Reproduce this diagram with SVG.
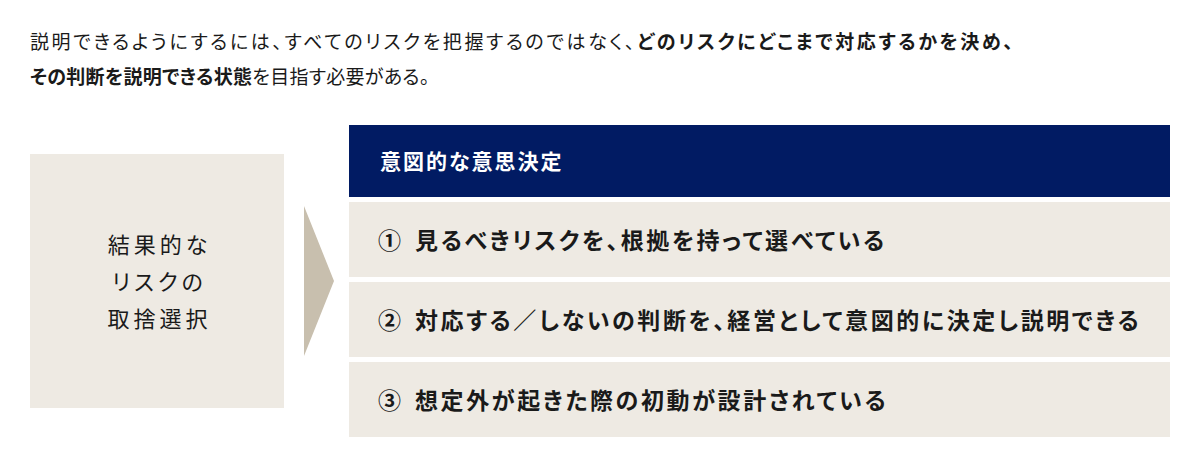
<svg xmlns="http://www.w3.org/2000/svg" width="1200" height="467" viewBox="0 0 1200 467">
<style>
text{font-family:"Noto Sans CJK JP","Noto Sans CJK SC",sans-serif;fill:#1a1a1a;font-feature-settings:"palt" 1}
.lead{font-size:19px;letter-spacing:0.3px}
.just{letter-spacing:2.6px}
.b{font-weight:700}
.box{fill:#eeeae3}
.row{font-size:23px;font-weight:700;letter-spacing:2.6px}
.hdr{fill:#011b63}
.hdrt{font-size:21px;font-weight:700;fill:#ffffff;letter-spacing:2px}
.left{font-size:22px;letter-spacing:4px}
</style>
<g id="lead">
<text class="lead just" x="30" y="48.5">説明できるようにするには、すべてのリスクを把握するのではなく、<tspan class="b">どのリスクにどこまで対応するかを決め、</tspan></text>
<text class="lead" x="30" y="84"><tspan class="b">その判断を説明できる状態</tspan>を目指す必要がある。</text>
</g>
<g id="node-left">
<rect class="box" x="30" y="154" width="254" height="254"/>
<text class="left" x="159.5" y="252.5" text-anchor="middle">結果的な</text>
<text class="left" x="159.5" y="289.5" text-anchor="middle">リスクの</text>
<text class="left" x="159.5" y="326.5" text-anchor="middle">取捨選択</text>
</g>
<g id="connectors">
<polygon points="304,206 334,281 304,356" fill="#c8bfae"/>
</g>
<g id="node-header">
<rect class="hdr" x="349" y="125" width="821" height="72"/>
<text class="hdrt" x="380" y="169">意図的な意思決定</text>
</g>
<g id="node-row1">
<rect class="box" x="349" y="202" width="821" height="75"/>
<text class="row" x="378" y="248.5">①<tspan x="415">見るべきリスクを、根拠を持って選べている</tspan></text>
</g>
<g id="node-row2">
<rect class="box" x="349" y="282" width="821" height="75"/>
<text class="row" x="378" y="328.5">②<tspan x="415">対応する／しないの判断を、経営として意図的に決定し説明できる</tspan></text>
</g>
<g id="node-row3">
<rect class="box" x="349" y="362" width="821" height="75"/>
<text class="row" x="378" y="408.5">③<tspan x="415">想定外が起きた際の初動が設計されている</tspan></text>
</g>
</svg>
